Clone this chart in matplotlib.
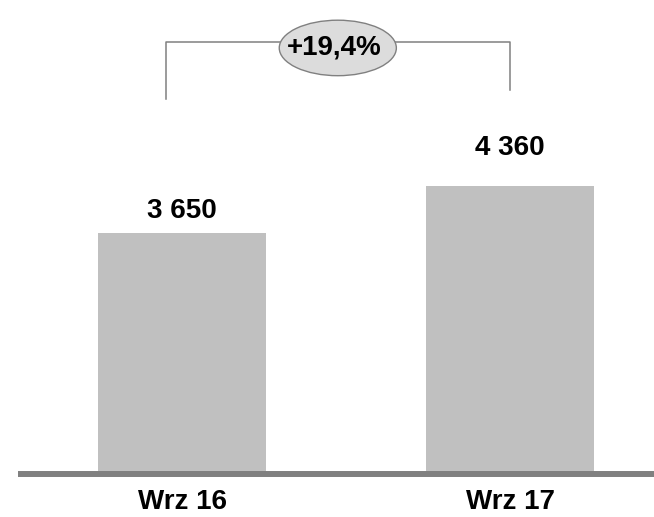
import numpy as np
import matplotlib
matplotlib.use("Agg")
import matplotlib.pyplot as plt
from matplotlib.patches import Ellipse

# ── data ──────────────────────────────────────────────────────────────────
CATEGORIES = ["Wrz 16", "Wrz 17"]
VALUES = [3650, 4360]
CHANGE_LABEL = "+19,4%"

# ── style ─────────────────────────────────────────────────────────────────
plt.rcParams["font.family"] = ["Liberation Sans", "DejaVu Sans"]
BAR_COLOR = "#C0C0C0"
AXIS_COLOR = "#808080"
LABEL_OFFSETS = [10.8, 22.3]   # pt above bar top (baseline)

fig = plt.figure(figsize=(6.54, 5.17), dpi=100)
ax = fig.add_axes([18 / 654, 43 / 517, 636 / 654, 474 / 517])

x = np.arange(len(CATEGORIES))
bars = ax.bar(x, VALUES, width=0.512, color=BAR_COLOR, zorder=1)

ymax = max(VALUES) * 474 / 288
ax.set_ylim(0, ymax)
ax.set_xlim(-0.5, 1.439)

# value labels
for rect, v, off in zip(bars, VALUES, LABEL_OFFSETS):
    ax.annotate(f"{v:,}".replace(",", " "),
                xy=(rect.get_x() + rect.get_width() / 2, rect.get_height()),
                xytext=(0, off), textcoords="offset points",
                ha="center", va="baseline", fontsize=20, fontweight="bold")

# axes cosmetics
for side in ["top", "right", "left"]:
    ax.spines[side].set_visible(False)
ax.spines["bottom"].set_color(AXIS_COLOR)
ax.spines["bottom"].set_linewidth(4.3)
ax.spines["bottom"].set_capstyle("butt")
ax.spines["bottom"].set_zorder(3)
ax.set_yticks([])
ax.set_xticks(x)
ax.set_xticklabels(CATEGORIES, fontsize=20, fontweight="bold")
ax.tick_params(axis="x", length=0, pad=11)

# bracket with change bubble
top = max(VALUES) * 1.5
left_x, right_x = x[0] - 0.05, x[1]
ax.plot([left_x, left_x, right_x, right_x],
        [max(VALUES) * 1.302, top, top, max(VALUES) * 1.333],
        color=AXIS_COLOR, lw=1.1, zorder=2, clip_on=False)
cx = (left_x + right_x) / 2
ax.add_patch(Ellipse((cx, top - 90), width=0.357, height=840,
                     facecolor="#DCDCDC", edgecolor=AXIS_COLOR, lw=1.0,
                     zorder=3, clip_on=False))
ax.text(cx - 0.012, top - 90, CHANGE_LABEL, ha="center", va="center",
        fontsize=20, fontweight="bold", zorder=4)

fig.savefig("out.png", dpi=100)
